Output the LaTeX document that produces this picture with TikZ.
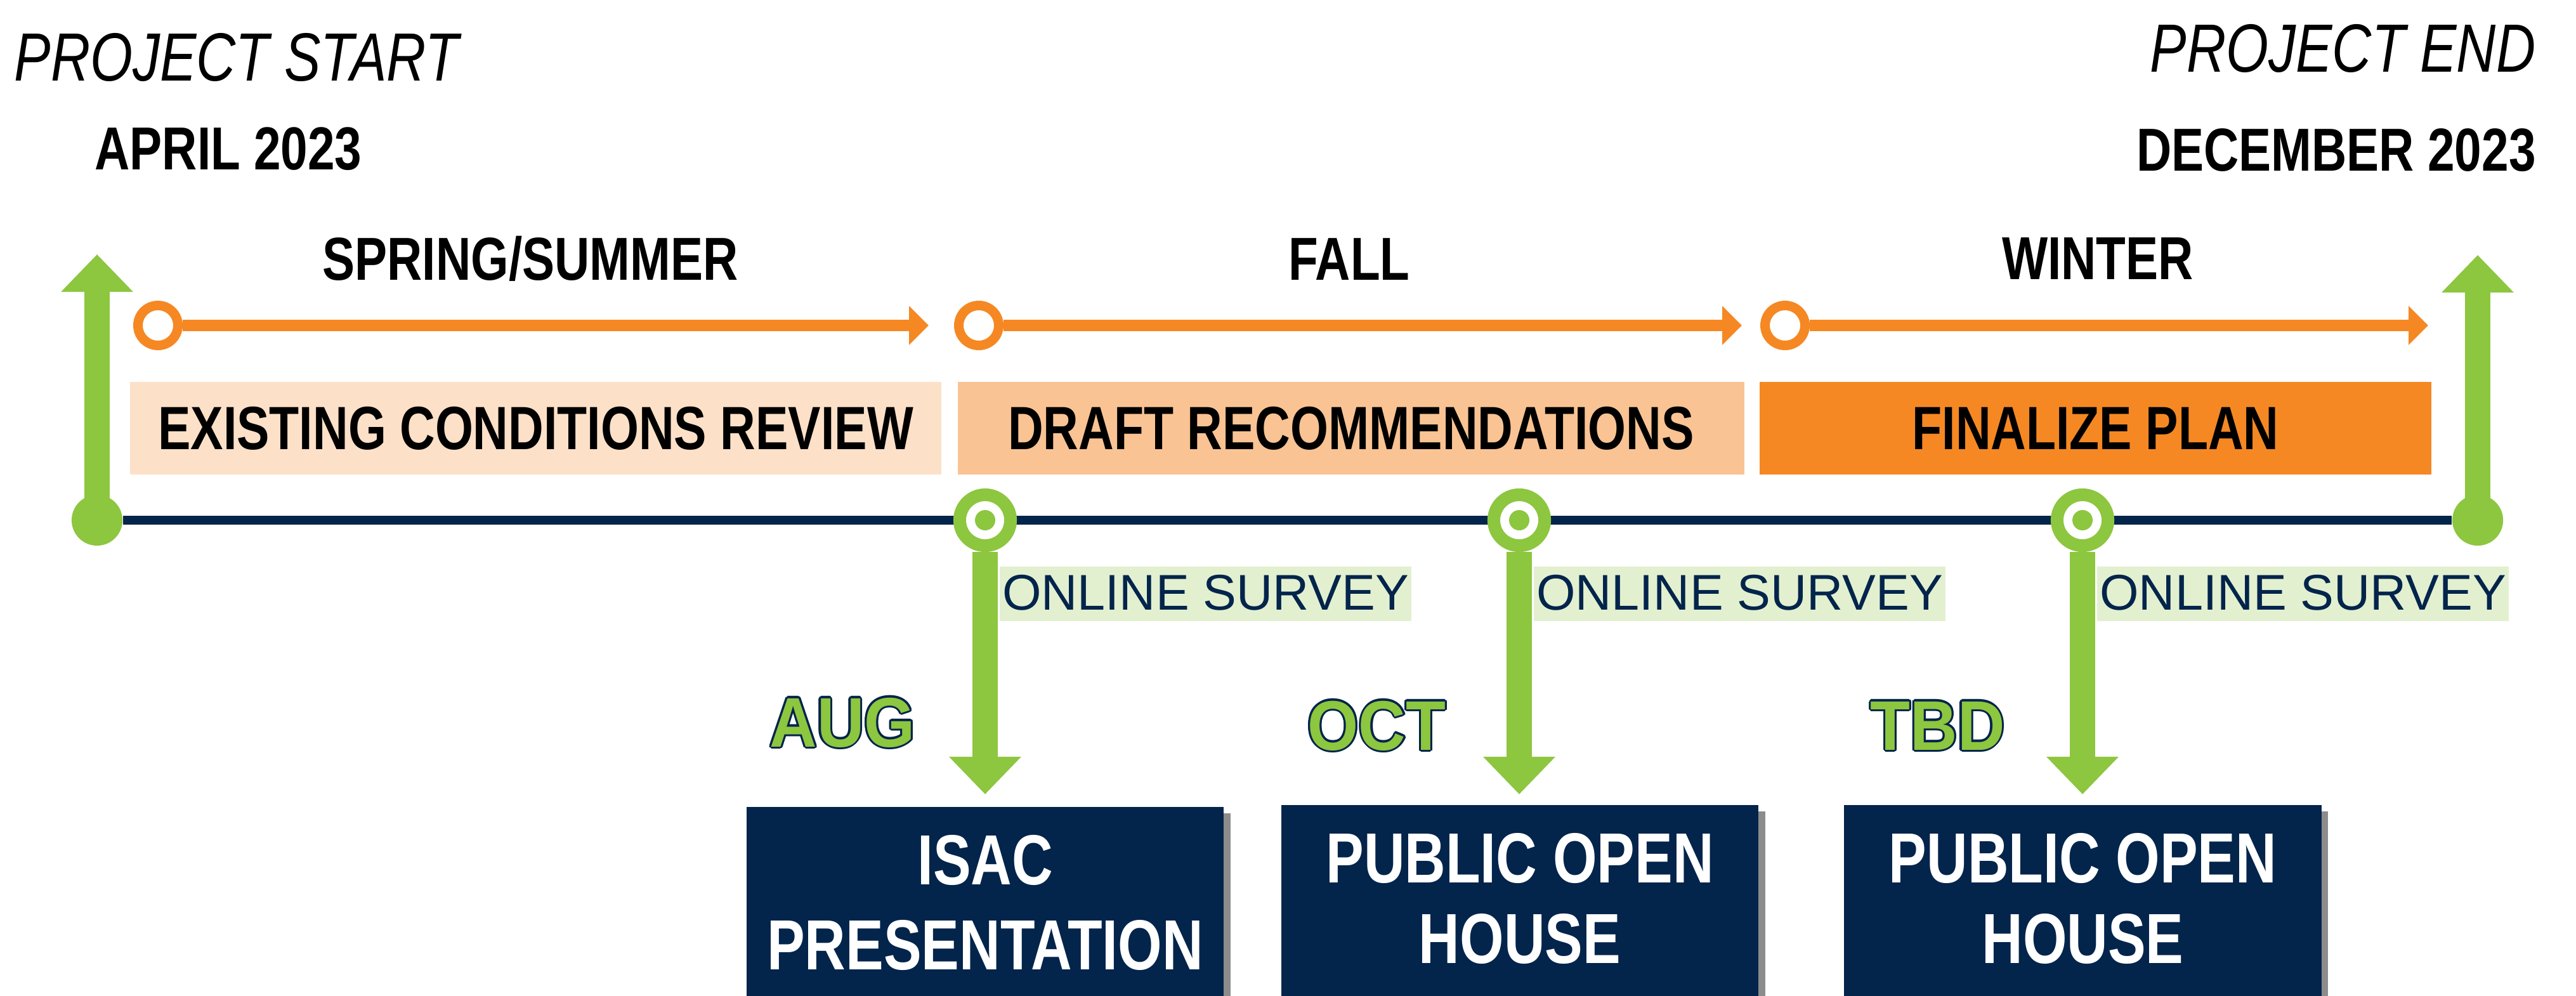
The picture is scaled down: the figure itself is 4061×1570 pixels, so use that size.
\documentclass[tikz,border=0pt]{standalone}
\usepackage{fontspec}
\setmainfont{Liberation Sans}
\newfontfamily\narrowfont{Liberation Sans}[FakeStretch=0.8]
\newfontfamily\monthfont{Liberation Sans}[FakeStretch=0.93]
\usetikzlibrary{arrows.meta,shadows,calc}
\definecolor{navy}{HTML}{03244B}
\definecolor{tlgreen}{HTML}{8DC63F}
\definecolor{lgreen}{HTML}{E2F0D0}
\definecolor{peachA}{HTML}{FCE0C8}
\definecolor{peachB}{HTML}{F9C393}
\definecolor{tlorange}{HTML}{F58823}
\tikzset{
  ring/.style={circle, draw=tlorange, line width=4.27pt, fill=white, minimum size=17.9pt, inner sep=0pt},
  orangearrow/.style={draw=tlorange, line width=4.84pt, -{Triangle[length=8.8pt,width=17pt]}},
  enddot/.style={circle, fill=tlgreen, minimum size=22.8pt, inner sep=0pt},
  target/.style={circle, draw=tlgreen, line width=5.69pt, fill=white, minimum size=22.8pt, inner sep=0pt},
  targetdot/.style={circle, fill=tlgreen, minimum size=9.1pt, inner sep=0pt},
  greenarrow/.style={draw=tlgreen, line width=11.4pt, -{Triangle[length=16.8pt,width=31.3pt]}},
  navyline/.style={draw=navy, line width=4pt},
  phase/.style={rectangle, inner sep=0pt, minimum height=41.5pt, text=black,
    font=\narrowfont\bfseries\fontsize{27.4pt}{32pt}\selectfont},
  title/.style={inner sep=0pt, font=\narrowfont\itshape\fontsize{30.6pt}{36pt}\selectfont},
  datetext/.style={inner sep=0pt, font=\narrowfont\bfseries\fontsize{27.2pt}{32pt}\selectfont},
  season/.style={inner sep=0pt, anchor=base, font=\narrowfont\bfseries\fontsize{27.2pt}{32pt}\selectfont},
  survey/.style={anchor=base west, fill=lgreen, text=navy, inner xsep=1.3pt, inner ysep=0pt,
    text height=19.3pt, text depth=5.1pt, font=\fontsize{22.5pt}{27pt}\selectfont},
  month/.style={anchor=base west, inner sep=0pt, font=\monthfont\bfseries\fontsize{31.5pt}{36pt}\selectfont},
  eventbox/.style={rectangle, fill=navy, anchor=north, minimum width=213.9pt, minimum height=113.8pt,
    drop shadow={shadow xshift=3pt, shadow yshift=-3pt, opacity=0.45, fill=black}},
  eventtext/.style={anchor=base, inner sep=0pt, text=white,
    font=\narrowfont\bfseries\fontsize{31.8pt}{38pt}\selectfont}
}
\begin{document}
\begin{tikzpicture}[x=0.01cm, y=-0.01cm]
\useasboundingbox (0,0) rectangle (4061,1570);
\clip (0,0) rectangle (4061,1570);
\fill[white] (0,0) rectangle (4061,1570);

% headings
\node[title, anchor=base west] (pstart) at (22,128) {PROJECT START};
\node[title, anchor=base east] (pend) at (3998,114) {PROJECT END};
\node[datetext, anchor=base] (dstart) at (360,268) {APRIL 2023};
\node[datetext, anchor=base] (dend) at (3683,270) {DECEMBER 2023};

% seasons
\node[season] (s1) at (836,442) {SPRING/SUMMER};
\node[season] (s2) at (2127,442) {FALL};
\node[season] (s3) at (3307,441) {WINTER};

% orange phase arrows
\node[ring] (o1) at (249,513) {};
\node[ring] (o2) at (1543,513) {};
\node[ring] (o3) at (2814,513) {};
\coordinate (a1) at (1464,513);
\coordinate (a2) at (2746,513);
\coordinate (a3) at (3828,513);
\draw[orangearrow] (o1) -- (a1);
\draw[orangearrow] (o2) -- (a2);
\draw[orangearrow] (o3) -- (a3);

% phase boxes
\node[phase, fill=peachA, minimum width=363.9pt] (p1) at (844.5,675) {EXISTING CONDITIONS REVIEW};
\node[phase, fill=peachB, minimum width=352.8pt] (p2) at (2130,675) {DRAFT RECOMMENDATIONS};
\node[phase, fill=tlorange, minimum width=301.3pt] (p3) at (3303.5,675) {FINALIZE PLAN};

% main timeline
\node[enddot] (start) at (153,820) {};
\node[enddot] (end) at (3906,820) {};
\draw[navyline] (start) -- (end);
\coordinate (upA) at (153,401);
\coordinate (upB) at (3906,402);
\draw[greenarrow] (start.center) -- (upA);
\draw[greenarrow] (end.center) -- (upB);

% online surveys
\node[survey] (os1) at (1575,961) {ONLINE SURVEY};
\node[survey] (os2) at (2417,961) {ONLINE SURVEY};
\node[survey] (os3) at (3305,961) {ONLINE SURVEY};

% milestone targets and stems
\foreach \n/\x in {1/1553, 2/2395, 3/3283}{
  \node[target] (t\n) at (\x,820) {};
  \coordinate (d\n) at (\x,1252);
  \draw[greenarrow] (t\n) -- (d\n);
  \node[targetdot] (td\n) at (\x,820) {};
}

% months (green with navy outline)
\foreach \nm/\x/\y/\txt in {aug/1213/1177/AUG, oct/2061/1182/OCT, tbd/2948/1182/TBD}{
  \foreach \a in {0,30,...,330}{
    \node[month, text=navy] (\nm-\a) at ($(\x,\y)+(\a:0.9pt)$) {\txt};
  }
  \node[month, text=tlgreen] (\nm) at (\x,\y) {\txt};
}

% event boxes
\node[eventbox] (b1) at (1553,1271) {};
\node[eventbox] (b2) at (2396,1268) {};
\node[eventbox] (b3) at (3283.5,1268) {};
\node[eventtext] (b1l1) at (1553,1394) {ISAC};
\node[eventtext] (b1l2) at (1553,1528) {PRESENTATION};
\node[eventtext] (b2l1) at (2396,1391) {PUBLIC OPEN};
\node[eventtext] (b2l2) at (2396,1518) {HOUSE};
\node[eventtext] (b3l1) at (3283.5,1391) {PUBLIC OPEN};
\node[eventtext] (b3l2) at (3283.5,1518) {HOUSE};
\end{tikzpicture}
\end{document}
